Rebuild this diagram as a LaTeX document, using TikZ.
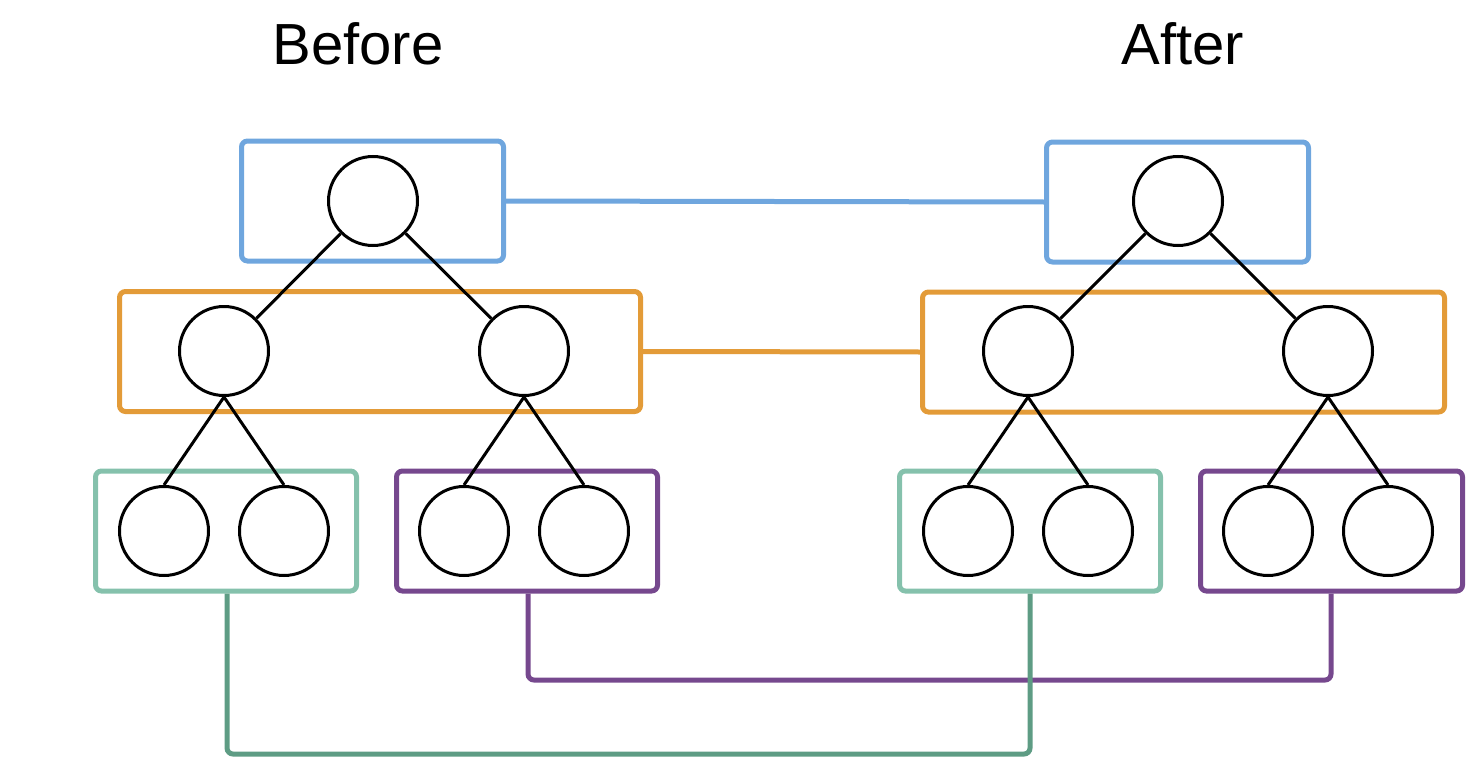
\documentclass[tikz,border=0pt]{standalone}
\usepackage{fontspec}
\setmainfont{Liberation Sans}
\usetikzlibrary{calc}
\definecolor{cblue}{HTML}{6FA6DE}
\definecolor{corange}{HTML}{E39B38}
\definecolor{cteal}{HTML}{85C1AC}
\definecolor{ctealdark}{HTML}{5E9C84}
\definecolor{cpurple}{HTML}{76488E}
\tikzset{
  tn/.style={circle,draw=black,line width=3pt,minimum size=89pt,inner sep=0pt},
  grp/.style={draw=#1,line width=5pt,rounded corners=6pt,minimum height=120pt,inner sep=0pt,fill=none},
  link/.style={draw=#1,line width=5pt,rounded corners=6pt},
  edge/.style={draw=black,line width=3pt},
  title/.style={font=\fontsize{58pt}{60pt}\selectfont,anchor=base}
}
\begin{document}
\begin{tikzpicture}[x=1pt,y=-1pt]
\useasboundingbox (0,0) rectangle (1478,776);
\node[title] (tb) at (358,65) {Before};
\node[title] (ta) at (1183,65) {After};
% boxes (drawn first)
\node[grp=cblue,minimum width=262pt] (lb1) at (372.5,201) {};
\node[grp=cblue,minimum width=262pt] (rb1) at (1177.5,202) {};
\node[grp=corange,minimum width=521pt] (lb2) at (380,351.5) {};
\node[grp=corange,minimum width=522pt] (rb2) at (1183.5,352) {};
\node[grp=cteal,minimum width=261pt] (lb3) at (226,531) {};
\node[grp=cpurple,minimum width=261pt] (lb4) at (527,531) {};
\node[grp=cteal,minimum width=261pt] (rb3) at (1030,531) {};
\node[grp=cpurple,minimum width=262pt] (rb4) at (1331.5,531) {};
% connectors between groups
\draw[link=cblue] (lb1.east) -- (rb1.west);
\draw[link=corange] (lb2.east) -- (rb2.west);
\coordinate (pl) at ($(lb4.south)+(1,0)$);
\coordinate (pr) at ($(rb4.south)+(-0.5,0)$);
\draw[link=cpurple] (pl) -- (pl |- 0,680) -- (pr |- 0,680) -- (pr);
\coordinate (tl) at ($(lb3.south)+(1,0)$);
\coordinate (tr) at ($(rb3.south)+(0,0)$);
\draw[link=ctealdark] (tl) -- (tl |- 0,754) -- (tr |- 0,754) -- (tr);
% left tree
\node[tn] (l0) at (373,201) {};
\node[tn] (l1) at (224,351) {};
\node[tn] (l2) at (524,351) {};
\node[tn] (l3) at (164,531) {};
\node[tn] (l4) at (284,531) {};
\node[tn] (l5) at (464,531) {};
\node[tn] (l6) at (584,531) {};
\draw[edge] (l0) -- (l1);
\draw[edge] (l0) -- (l2);
\draw[edge] (l1.south) -- (l3.north);
\draw[edge] (l1.south) -- (l4.north);
\draw[edge] (l2.south) -- (l5.north);
\draw[edge] (l2.south) -- (l6.north);
% right tree
\node[tn] (r0) at (1178,201) {};
\node[tn] (r1) at (1028,351) {};
\node[tn] (r2) at (1328,351) {};
\node[tn] (r3) at (968,531) {};
\node[tn] (r4) at (1088,531) {};
\node[tn] (r5) at (1268,531) {};
\node[tn] (r6) at (1388,531) {};
\draw[edge] (r0) -- (r1);
\draw[edge] (r0) -- (r2);
\draw[edge] (r1.south) -- (r3.north);
\draw[edge] (r1.south) -- (r4.north);
\draw[edge] (r2.south) -- (r5.north);
\draw[edge] (r2.south) -- (r6.north);
\end{tikzpicture}
\end{document}
